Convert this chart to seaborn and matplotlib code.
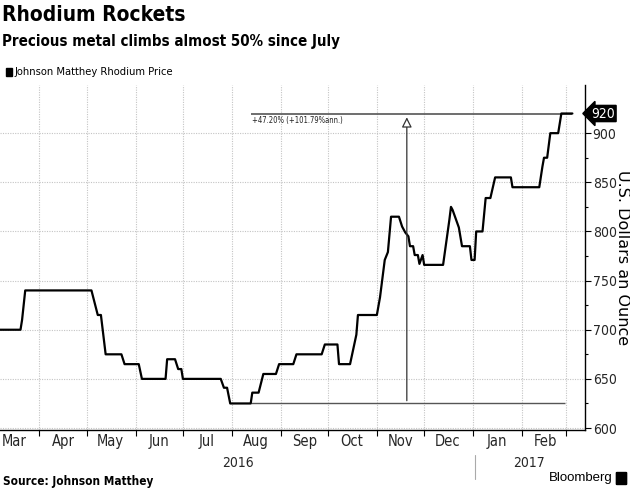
import matplotlib
matplotlib.use("Agg")
import matplotlib.pyplot as plt
from matplotlib.ticker import MultipleLocator
import matplotlib.patches as mpatches
import seaborn as sns
import pandas as pd

# ---- data ----
dates = ["2016-03-07", "2016-03-20", "2016-03-21", "2016-03-23", "2016-05-04", "2016-05-08",
         "2016-05-10", "2016-05-13", "2016-05-23", "2016-05-25", "2016-06-03", "2016-06-05",
         "2016-06-20", "2016-06-21", "2016-06-26", "2016-06-28", "2016-06-30", "2016-07-01",
         "2016-07-25", "2016-07-27", "2016-07-29", "2016-07-31", "2016-08-13", "2016-08-14",
         "2016-08-18", "2016-08-21", "2016-08-29", "2016-08-31", "2016-09-09", "2016-09-11",
         "2016-09-27", "2016-09-29", "2016-10-07", "2016-10-08", "2016-10-15", "2016-10-19",
         "2016-10-20", "2016-11-01", "2016-11-03", "2016-11-06", "2016-11-08", "2016-11-10",
         "2016-11-15", "2016-11-17", "2016-11-19", "2016-11-21", "2016-11-22", "2016-11-24",
         "2016-11-25", "2016-11-27", "2016-11-28", "2016-11-30", "2016-12-01", "2016-12-13",
         "2016-12-17", "2016-12-18", "2016-12-19", "2016-12-23", "2016-12-25", "2016-12-30",
         "2016-12-31", "2017-01-02", "2017-01-03", "2017-01-07", "2017-01-09", "2017-01-12",
         "2017-01-15", "2017-01-25", "2017-01-26", "2017-02-12", "2017-02-14", "2017-02-15",
         "2017-02-17", "2017-02-19", "2017-02-24", "2017-02-26", "2017-03-05"]
prices = [700, 700, 710, 740, 740, 715,
          715, 675, 675, 665, 665, 650,
          650, 670, 670, 660, 660, 650,
          650, 641, 641, 625, 625, 636,
          636, 655, 655, 665, 665, 675,
          675, 685, 685, 665, 665, 695,
          715, 715, 733, 771, 779, 815,
          815, 805, 799, 795, 785, 785,
          776, 776, 767, 776, 766, 766,
          812, 825, 822, 804, 785, 785,
          771, 771, 800, 800, 834, 834,
          855, 855, 845, 845, 866, 875,
          875, 900, 900, 920, 920]

month_labels = ["Mar", "Apr", "May", "Jun", "Jul", "Aug", "Sep", "Oct", "Nov", "Dec", "Jan", "Feb"]
year_labels = ["2016", "2017"]
y_ticks = [600, 650, 700, 750, 800, 850, 900]
last_price = 920
low_price = 625
change_text = "+47.20% (+101.79%ann.)"

df = pd.DataFrame({"date": pd.to_datetime(dates), "price": prices})

sns.set_theme(style="white")
plt.rcParams["font.family"] = ["DejaVu Sans"]
plt.rcParams["font.stretch"] = "condensed"
COND = dict(family=["DejaVu Sans"], stretch="condensed")

fig = plt.figure(figsize=(6.3, 4.9), dpi=100)
ax = fig.add_axes([0.0, 60 / 490, 585 / 630, 345 / 490])

sns.lineplot(data=df, x="date", y="price", ax=ax, color="black", linewidth=1.6)

x0 = pd.Timestamp("2016-03-07")
x1 = pd.Timestamp("2017-03-13")

# spines
for s in ["left", "top"]:
    ax.spines[s].set_visible(False)
ax.spines["right"].set_color("black")
ax.spines["bottom"].set_color("black")
ax.spines["right"].set_linewidth(1.0)
ax.spines["bottom"].set_linewidth(1.0)

# y axis on right
ax.yaxis.tick_right()
ax.set_yticks(y_ticks)
ax.set_yticklabels([str(v) for v in y_ticks], fontsize=10, **COND)
ax.yaxis.set_minor_locator(MultipleLocator(25))
ax.tick_params(axis="y", which="major", right=True, left=False, direction="out",
               length=4, width=0.8, color="black", pad=1.5)
ax.tick_params(axis="y", which="minor", right=True, left=False, direction="out",
               length=2.5, width=0.8, color="black")
ax.set_ylabel("")

# x axis: ticks at month starts, labels mid-month
month_starts = pd.date_range("2016-03-01", "2017-03-01", freq="MS")
ax.set_xticks(month_starts)
ax.set_xticklabels([""] * len(month_starts))
mids = [m + pd.Timedelta(days=15) for m in month_starts[:-1]]
ax.set_xticks(mids, minor=True)
ax.set_xticklabels(month_labels, minor=True, fontsize=10.5, **COND)
ax.tick_params(axis="x", which="major", bottom=True, direction="out", length=4,
               width=0.8, color="black")
ax.tick_params(axis="x", which="minor", bottom=True, length=0, pad=3)
ax.set_xlabel("")
ax.set_xlim(x0, x1)
ax.set_ylim(598, 949)

# grid
ax.grid(True, which="major", axis="both", color="#c4c4c4", linestyle=(0, (1, 1.2)),
        linewidth=0.8)

# reference lines and arrow annotation
ax.hlines(last_price, pd.Timestamp("2016-08-13"), pd.Timestamp("2017-03-05"),
          color="#555555", linewidth=1.2, zorder=1)
ax.hlines(low_price, pd.Timestamp("2016-08-13"), pd.Timestamp("2017-02-28"),
          color="#555555", linewidth=1.0, zorder=1)
ax.annotate("", xy=(pd.Timestamp("2016-11-20"), last_price - 1),
            xytext=(pd.Timestamp("2016-11-20"), low_price),
            arrowprops=dict(arrowstyle="-|>,head_length=0.5,head_width=0.25",
                            fc="white", ec="#333333", lw=0.9))
ax.text(pd.Timestamp("2016-08-14"), last_price - 3, change_text, fontsize=5.5,
        va="top", ha="left", color="#222222", **COND)

# last price tag
ax.annotate(str(last_price), xy=(1.0, last_price), xycoords=("axes fraction", "data"),
            xytext=(4.5, 0), textcoords="offset points", va="center", ha="left",
            fontsize=10, color="white", **COND,
            bbox=dict(boxstyle="larrow,pad=0.08", fc="black", ec="black"))

# y-axis title
fig.text(622 / 630, 1 - 258 / 490, "U.S. Dollars an Ounce", rotation=-90, ha="center",
         va="center", fontsize=11.5, family=["DejaVu Sans"], stretch="normal", color="black")

# year labels and separator
fig.text(238 / 630, 1 - 463 / 490, year_labels[0], ha="center", va="center", fontsize=10, **COND)
fig.text(529 / 630, 1 - 463 / 490, year_labels[1], ha="center", va="center", fontsize=10, **COND)
fig.add_artist(plt.Line2D([475 / 630, 475 / 630], [1 - 455 / 490, 1 - 479 / 490],
                          color="#aaaaaa", linewidth=0.8))

# titles
fig.text(0.003, 1 - 5 / 490, "Rhodium Rockets", ha="left", va="top", fontsize=15,
         fontweight="bold", color="black", **COND)
fig.text(0.003, 1 - 34 / 490, "Precious metal climbs almost 50% since July", ha="left",
         va="top", fontsize=10.8, fontweight="bold", color="black", **COND)
fig.add_artist(mpatches.Rectangle((6 / 630, 1 - 76 / 490), 6 / 630, 8 / 490,
                                  transform=fig.transFigure, color="black"))
fig.text(14 / 630, 1 - 72 / 490, "Johnson Matthey Rhodium Price", ha="left", va="center",
         fontsize=8, color="black", **COND)

# footer
fig.text(0.005, 1 - 481 / 490, "Source: Johnson Matthey", ha="left", va="center",
         fontsize=8.5, fontweight="bold", color="black", **COND)
fig.text(613 / 630, 1 - 478 / 490, "Bloomberg", ha="right", va="center",
         fontsize=9.5, color="black", family=["Liberation Sans", "DejaVu Sans"], stretch="normal")
fig.add_artist(mpatches.FancyBboxPatch((617 / 630, 1 - 484 / 490), 9 / 630, 11 / 490,
                                       boxstyle="round,pad=0.001", transform=fig.transFigure,
                                       color="black"))

fig.savefig("out.png", dpi=100)
